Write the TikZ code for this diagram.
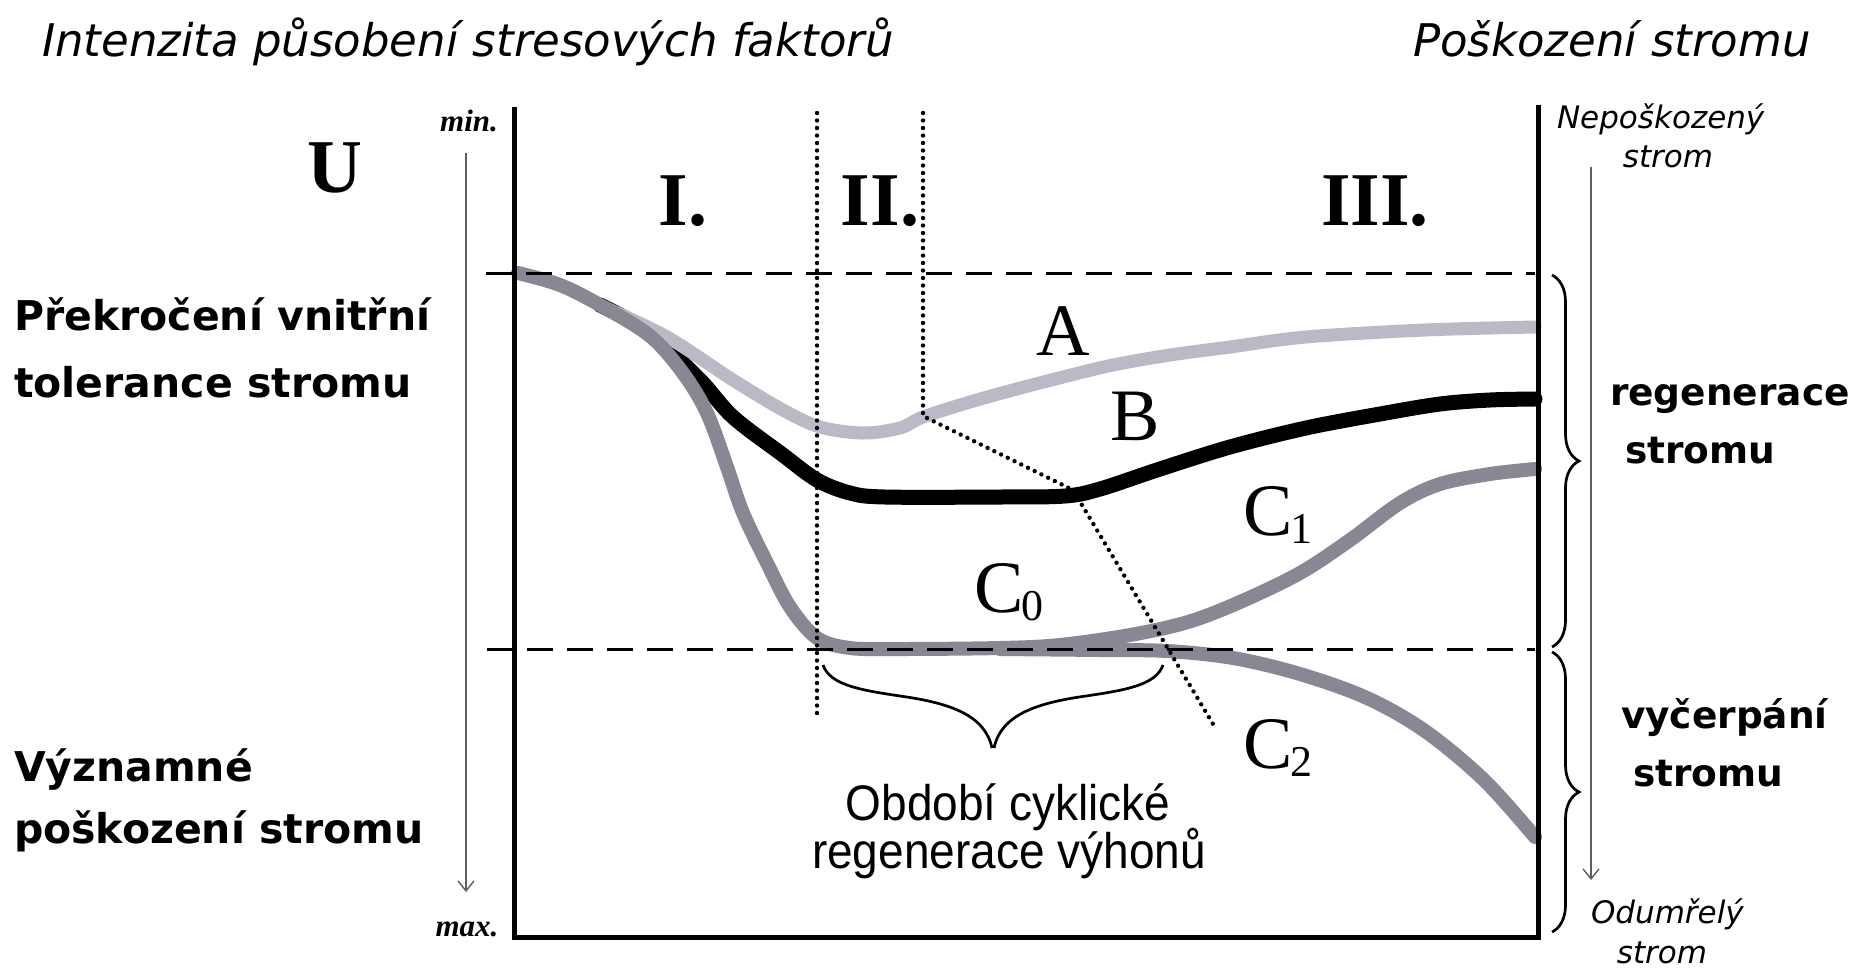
\documentclass[tikz,border=0pt]{standalone}
\usepackage{fontspec}
\newfontfamily\verd[ItalicFont={DejaVu Sans Oblique},BoldFont={DejaVu Sans Bold}]{DejaVu Sans}
\newfontfamily\tnr{Liberation Serif}
\newfontfamily\ari[FakeStretch=0.92]{Liberation Sans}
\usetikzlibrary{arrows.meta,decorations.pathreplacing}
\definecolor{curveA}{RGB}{186,186,198}
\definecolor{curveC}{RGB}{136,136,148}
\definecolor{thinln}{RGB}{95,95,95}
\begin{document}
\begin{tikzpicture}[x=1pt,y=-1pt,
  every node/.style={inner sep=0pt,outer sep=0pt},
  titlefont/.style={font=\verd\itshape\fontsize{45}{54}\selectfont},
  boldlab/.style={font=\verd\bfseries\fontsize{41}{48}\selectfont},
  boldlabr/.style={font=\verd\bfseries\fontsize{37.5}{45}\selectfont},
  smallital/.style={font=\verd\itshape\fontsize{31}{37}\selectfont},
  romanbig/.style={font=\tnr\bfseries\fontsize{76}{90}\selectfont},
  letterlab/.style={font=\tnr\fontsize{74}{88}\selectfont},
  minmax/.style={font=\tnr\itshape\bfseries\fontsize{31}{36}\selectfont},
  periodlab/.style={font=\ari\fontsize{50}{60}\selectfont},
  frameln/.style={line width=5pt,black},
  dashln/.style={line width=3pt,black,dash pattern=on 26pt off 14pt},
  dotln/.style={line width=4.4pt,black,dash pattern=on 0pt off 7.5pt,line cap=round},
  thinarrow/.style={line width=1.4pt,thinln,-{Straight Barb[length=10pt,width=16pt,line width=1.4pt]}},
  curvA/.style={line width=13pt,curveA,line cap=round},
  curvB/.style={line width=15pt,black,line cap=round},
  curvC/.style={line width=14pt,curveC,line cap=round},
  bracelin/.style={line width=2.7pt,black},
]
\useasboundingbox (0,0) rectangle (1862,970);

% titles
\node[titlefont,anchor=base west] (t1) at (42,56) {Intenzita působení stresových faktorů};
\node[titlefont,anchor=base west] (t2) at (1413,56) {Poškození stromu};

% frame
\coordinate (ftl) at (514,107);
\coordinate (fbl) at (514,937);
\coordinate (fbr) at (1538,937);
\coordinate (ftr) at (1538,105);

% curves
\draw[curvB] plot[smooth,tension=0.55] coordinates {(600,305) (650,333) (700,380) (733,417) (783,455) (817,480) (850,493) (885,497) (1000,497) (1065,496) (1100,489) (1160,469) (1230,447) (1306,428) (1380,414) (1440,404) (1490,400) (1535,399)};
\draw[curvA] plot[smooth,tension=0.55] coordinates {(518,273) (560,285) (600,305) (667,337) (733,380) (783,410) (820,427) (863,433) (900,428) (923,417) (970,402) (1013,390) (1063,377) (1113,365) (1170,355) (1230,347) (1306,337) (1425,330) (1535,327)};
\draw[curvC] plot[smooth,tension=0.55] coordinates {(518,273) (560,285) (600,305) (650,336) (683,373) (707,413) (727,467) (743,513) (767,563) (790,607) (817,638) (850,648) (900,649) (1000,648) (1060,645) (1130,635) (1188,622) (1240,602) (1300,573) (1350,540) (1400,503) (1440,484) (1490,474) (1535,469)};
\draw[curvC] plot[smooth,tension=0.55] coordinates {(1000,649) (1100,650) (1167,651) (1233,658) (1300,674) (1367,698) (1425,731) (1484,780) (1535,837)};

% frame lines
\draw[frameln] (ftl) -- (fbl) -- (fbr) -- (ftr);

% dashed levels
\coordinate (d1a) at (486,273); \coordinate (d1b) at (1535,273);
\coordinate (d2a) at (487,649); \coordinate (d2b) at (1535,649);
\draw[dashln] (d1a) -- (d1b);
\draw[dashln] (d2a) -- (d2b);

% dotted lines
\coordinate (v1a) at (817,113); \coordinate (v1b) at (817,718);
\coordinate (v2a) at (923,113); \coordinate (v2b) at (923,416);
\coordinate (dg1) at (1073,490); \coordinate (dg2) at (1213,724);
\draw[dotln] (v1a) -- (v1b);
\draw[dotln] (v2a) -- (v2b) -- (dg1) -- (dg2);

% thin arrows
\coordinate (la1) at (466,153); \coordinate (la2) at (466,892);
\coordinate (ra1) at (1591,167); \coordinate (ra2) at (1591,880);
\draw[thinarrow] (la1) -- (la2);
\draw[thinarrow] (ra1) -- (ra2);

% right braces
\coordinate (b1a) at (1552,275); \coordinate (b1b) at (1552,647);
\coordinate (b2a) at (1552,652); \coordinate (b2b) at (1552,932);
\draw[bracelin,decorate,decoration={brace,amplitude=27pt,aspect=0.5}] (b1a) -- (b1b);
\draw[bracelin,decorate,decoration={brace,amplitude=27pt,aspect=0.5}] (b2a) -- (b2b);

% lower brace
\draw[bracelin] (823,665) .. controls (830,685) and (860,690) .. (900,696) .. controls (950,703) and (985,715) .. (992,748);
\draw[bracelin] (1163,665) .. controls (1156,685) and (1126,690) .. (1086,696) .. controls (1036,703) and (1001,715) .. (994,748);

% min / max
\node[minmax,anchor=base] (mn) at (469,131) {min.};
\node[minmax,anchor=base] (mx) at (467,936) {max.};

% big letters
\node[romanbig,anchor=base] (U) at (335,192) {U};
\node[romanbig,anchor=base] (p1) at (683,225) {I.};
\node[romanbig,anchor=base] (p2) at (880,225) {II.};
\node[romanbig,anchor=base] (p3) at (1375,225) {III.};

\node[letterlab,anchor=base] (lA) at (1063,355) {A};
\node[letterlab,anchor=base] (lB) at (1135,440) {B};
\node[letterlab,anchor=base west] (lC0) at (974,612) {C\kern-2pt\raisebox{-8pt}{\fontsize{44}{44}\selectfont 0}};
\node[letterlab,anchor=base west] (lC1) at (1243,535) {C\kern-2pt\raisebox{-8pt}{\fontsize{44}{44}\selectfont 1}};
\node[letterlab,anchor=base west] (lC2) at (1243,768) {C\kern-2pt\raisebox{-8pt}{\fontsize{44}{44}\selectfont 2}};

% left labels
\node[boldlab,anchor=base west] (L1) at (14,330) {Překročení vnitřní};
\node[boldlab,anchor=base west] (L2) at (14,397) {tolerance stromu};
\node[boldlab,anchor=base west] (L3) at (14,781) {Významné};
\node[boldlab,anchor=base west] (L4) at (14,843) {poškození stromu};

% right labels
\node[boldlabr,anchor=base west] (R1) at (1610,405) {regenerace};
\node[boldlabr,anchor=base west] (R2) at (1625,463) {stromu};
\node[boldlabr,anchor=base west] (R3) at (1621,728) {vyčerpání};
\node[boldlabr,anchor=base west] (R4) at (1633,786) {stromu};

% small italic
\node[smallital,anchor=base west] (N1) at (1557,128) {Nepoškozený};
\node[smallital,anchor=base] (N2) at (1668,167) {strom};
\node[smallital,anchor=base west] (O1) at (1591,923) {Odumřelý};
\node[smallital,anchor=base] (O2) at (1662,963) {strom};

% period label
\node[periodlab,anchor=base] (P1) at (1008,820) {Období cyklické};
\node[periodlab,anchor=base] (P2) at (1009,868) {regenerace výhonů};
\end{tikzpicture}
\end{document}
